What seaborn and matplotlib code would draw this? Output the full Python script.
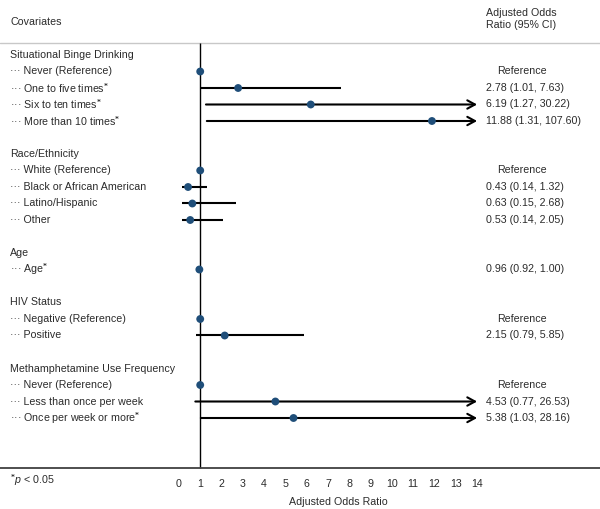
import matplotlib
matplotlib.use("Agg")
import matplotlib.pyplot as plt
import pandas as pd
import seaborn as sns

# Data
groups = [
    "Situational Binge Drinking",
    "Race/Ethnicity",
    "Age",
    "HIV Status",
    "Methamphetamine Use Frequency",
]
items = [
    ["Never (Reference)", "One to five times", "Six to ten times", "More than 10 times"],
    ["White (Reference)", "Black or African American", "Latino/Hispanic", "Other"],
    ["Age"],
    ["Negative (Reference)", "Positive"],
    ["Never (Reference)", "Less than once per week", "Once per week or more"],
]
significant = [
    [False, True, True, True],
    [False, False, False, False],
    [True],
    [False, False],
    [False, False, True],
]
odds = [
    [1.0, 2.78, 6.19, 11.88],
    [1.0, 0.43, 0.63, 0.53],
    [0.96],
    [1.0, 2.15],
    [1.0, 4.53, 5.38],
]
lower = [
    [None, 1.01, 1.27, 1.31],
    [None, 0.14, 0.15, 0.14],
    [0.92],
    [None, 0.79],
    [None, 0.77, 1.03],
]
upper = [
    [None, 7.63, 30.22, 107.60],
    [None, 1.32, 2.68, 2.05],
    [1.00],
    [None, 5.85],
    [None, 26.53, 28.16],
]
x_ticks = list(range(0, 15))

# Build one row per item, with a header row and a blank row per group
rows = []
i = 0
for g, group in enumerate(groups):
    rows.append({"row": i, "kind": "header", "label": group})
    i += 1
    for k, name in enumerate(items[g]):
        rows.append({
            "row": i, "kind": "item", "label": name, "sig": significant[g][k],
            "or": odds[g][k], "lo": lower[g][k], "hi": upper[g][k],
        })
        i += 1
    i += 1
df = pd.DataFrame(rows)
df_items = df[df["kind"] == "item"].copy()

# Style
sns.set_style("white")
plt.rcParams["font.family"] = ["Liberation Sans", "DejaVu Sans"]
plt.rcParams["mathtext.fontset"] = "custom"
plt.rcParams["mathtext.rm"] = "Liberation Sans"
plt.rcParams["mathtext.it"] = "Liberation Sans:italic"
text_color = "#2b2b2b"
dot_color = "#1f4e79"
fs = 7.7

fig = plt.figure(figsize=(6, 5.09), dpi=100)
ax = fig.add_axes([0, 0, 1, 1])
ax.set_xlim(-8.40, 19.77)
ax.set_ylim(27.515, -3.333)

LABEL_X = -7.93
EST_X = 14.4
REF_X = 16.1
CAP = 14.0
AXIS_Y = 25

# header
ax.text(LABEL_X, -1.97, "Covariates", fontsize=fs, color=text_color, va="center")
ax.text(EST_X, -2.55, "Adjusted Odds", fontsize=fs, color=text_color, va="center")
ax.text(EST_X, -1.8, "Ratio (95% CI)", fontsize=fs, color=text_color, va="center")
ax.axhline(-0.75, color="#c8c8c8", lw=1.0)

# reference line at OR = 1
ax.vlines(1, -0.75, AXIS_Y, color="black", lw=1.0, zorder=2)

# row labels and estimate text
for _, r in df.iterrows():
    if r["kind"] == "header":
        ax.text(LABEL_X, r["row"], r["label"], fontsize=fs, color=text_color, va="center")
        continue
    label = "··· " + r["label"] + (r"$^{\mathbf{*}}$" if r["sig"] else "")
    ax.text(LABEL_X, r["row"], label, fontsize=fs, color=text_color, va="center")
    if pd.isna(r["lo"]):
        ax.text(REF_X, r["row"], "Reference", fontsize=fs, color=text_color,
                va="center", ha="center")
    else:
        ax.text(EST_X, r["row"], f"{r['or']:.2f} ({r['lo']:.2f}, {r['hi']:.2f})",
                fontsize=fs, color=text_color, va="center")

# confidence intervals (arrows when past the axis end)
for _, r in df_items.dropna(subset=["lo"]).iterrows():
    if r["hi"] > CAP:
        ax.annotate("", xy=(CAP, r["row"]), xytext=(r["lo"], r["row"]),
                    arrowprops=dict(arrowstyle="->,head_length=0.55,head_width=0.3",
                                    color="black", lw=1.5, shrinkA=0, shrinkB=0),
                    zorder=3)
    else:
        ax.hlines(r["row"], r["lo"], r["hi"], color="black", lw=1.5, zorder=3)

sns.scatterplot(data=df_items, x="or", y="row", ax=ax, color=dot_color,
                s=32, edgecolor="none", zorder=4, legend=False)

# x axis
for side in ["top", "left", "right"]:
    ax.spines[side].set_visible(False)
ax.spines["bottom"].set_position(("data", AXIS_Y))
ax.spines["bottom"].set_color("#404040")
ax.spines["bottom"].set_linewidth(1.3)
ax.set_xticks(x_ticks)
ax.set_xticklabels([str(t) for t in x_ticks])
ax.tick_params(axis="x", direction="out", length=4.5, width=1.0, color="#404040",
               labelsize=fs, labelcolor=text_color, pad=3.5)
ax.set_yticks([])
ax.set_xlabel("")
ax.set_ylabel("")
ax.text(7.5, 27.07, "Adjusted Odds Ratio", fontsize=fs, color=text_color,
        ha="center", va="center")
ax.text(LABEL_X, 25.76, r"$^{\mathbf{*}}\it{p}$ < 0.05", fontsize=fs, color=text_color,
        va="center")

fig.savefig("out.png", dpi=100)
plt.close(fig)
